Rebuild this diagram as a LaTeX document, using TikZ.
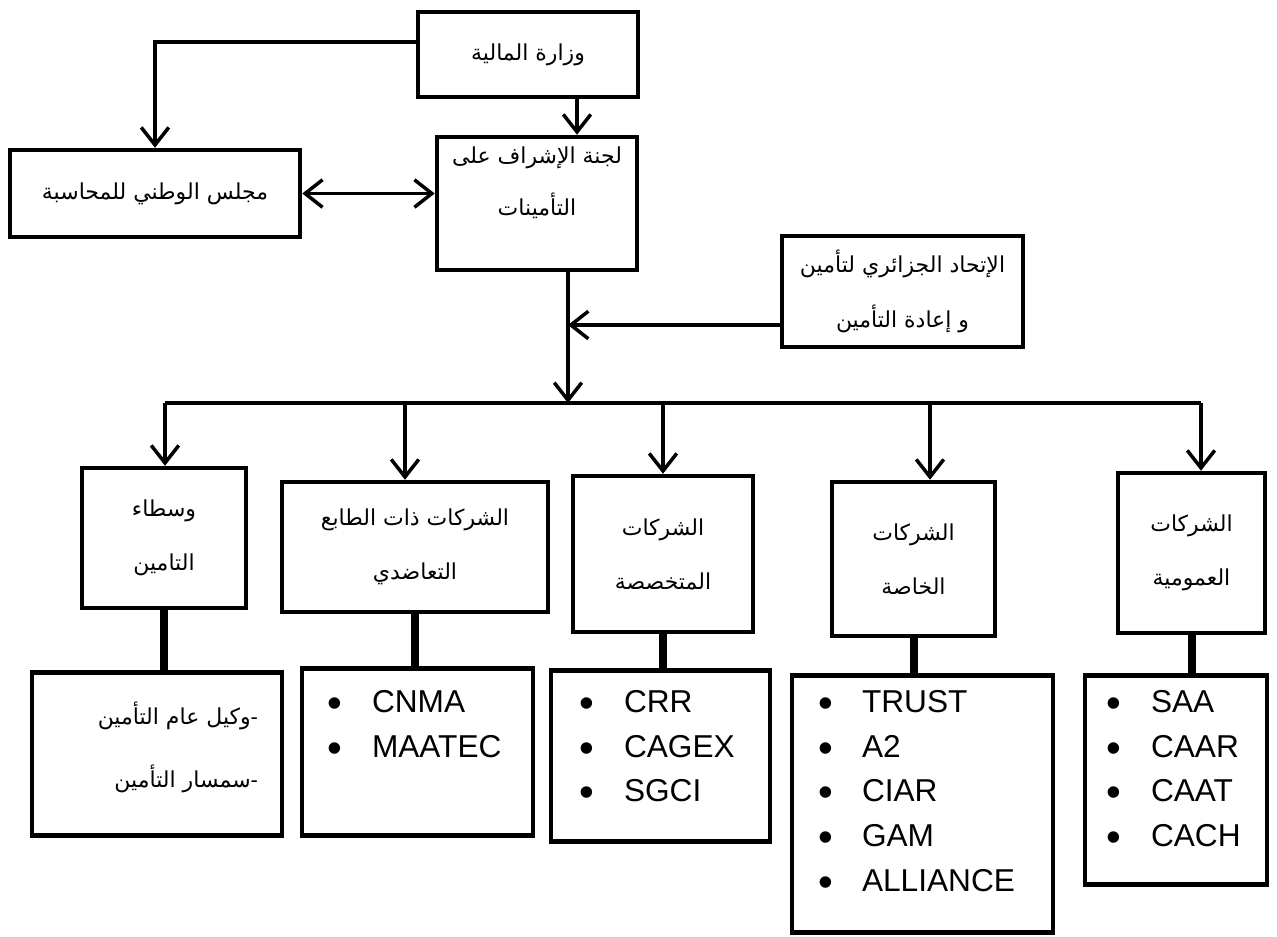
\documentclass[tikz,border=0pt]{standalone}
\usepackage{fontspec}
\setmainfont{Liberation Sans}
\newfontfamily\arabicfont[Script=Arabic]{DejaVu Sans}
\TeXXeTstate=1
\usetikzlibrary{arrows.meta}
\newcommand{\artxt}[1]{{\arabicfont\beginR #1\endR}}
\newcommand{\itm}{\raisebox{-0.3ex}{\fontsize{24}{24}\selectfont\textbullet}}

\begin{document}
\begin{tikzpicture}[x=0.2mm,y=-0.2mm,>={Straight Barb[length=3.5mm,width=5.5mm]},line width=0.7mm,
  box/.style={draw,rectangle,line width=0.9mm,align=center,inner sep=0pt,font=\fontsize{12.5}{15}\selectfont\arabicfont},
  listbox/.style={draw,rectangle,line width=0.9mm,anchor=north,inner sep=0pt,font=\fontsize{18}{25.5}\selectfont},
  link/.style={line width=1.6mm}]
\useasboundingbox (0,0) rectangle (1277,936);
% upper part
\node[box,minimum width=44mm,minimum height=17mm] (q_1) at (528,54.5) {\artxt{وزارة المالية}};
\node[box,minimum width=40mm,minimum height=26.6mm,text depth=9mm] (q_2) at (537,203.5) {\artxt{لجنة الإشراف على}\\[4.5mm]\artxt{التأمينات}};
\node[box,minimum width=58mm,minimum height=17.4mm] (q_3) at (155,193.5) {\artxt{مجلس الوطني للمحاسبة}};
\node[box,minimum width=48.2mm,minimum height=22.2mm] (q_4) at (902.5,291.5) {\artxt{الإتحاد الجزائري لتأمين}\\[5mm]\artxt{و إعادة التأمين}};
% second row
\node[box,minimum width=32.8mm,minimum height=28mm] (s_1) at (164,538) {\artxt{وسطاء}\\[5.5mm]\artxt{التامين}};
\node[box,minimum width=53.2mm,minimum height=26mm] (s_2) at (415,547) {\artxt{الشركات ذات الطابع}\\[5.5mm]\artxt{التعاضدي}};
\node[box,minimum width=36mm,minimum height=31.2mm] (s_3) at (663,554) {\artxt{الشركات}\\[5.5mm]\artxt{المتخصصة}};
\node[box,minimum width=32.6mm,minimum height=30.8mm] (s_4) at (913.5,559) {\artxt{الشركات}\\[5.5mm]\artxt{الخاصة}};
\node[box,minimum width=29.4mm,minimum height=32mm] (s_5) at (1191.5,553) {\artxt{الشركات}\\[5.5mm]\artxt{العمومية}};
% lists
\node[listbox,font=\fontsize{12.5}{15}\selectfont,text height=10.4mm,text depth=22.2mm] (l_1) at (157,670)
  {\makebox[50mm][r]{\begin{tabular}[t]{@{}r@{}}\artxt{وكيل عام التأمين}-\\[6.5mm]\artxt{سمسار التأمين}-\end{tabular}\hspace{4.8mm}}};
\node[listbox,text height=8.8mm,text depth=24.6mm] (l_2) at (417.5,666)
  {\makebox[46.2mm][l]{\begin{tabular}[t]{@{\hspace{5mm}}p{9mm}@{}l}\itm & CNMA\\ \itm & MAATEC\end{tabular}}};
\node[listbox,text height=8.4mm,text depth=25.8mm] (l_3) at (660.5,668)
  {\makebox[43.8mm][l]{\begin{tabular}[t]{@{\hspace{5.6mm}}p{9mm}@{}l}\itm & CRR\\ \itm & CAGEX\\ \itm & SGCI\end{tabular}}};
\node[listbox,text height=7.4mm,text depth=44mm] (l_4) at (922.5,673)
  {\makebox[52.2mm][l]{\begin{tabular}[t]{@{\hspace{5.2mm}}p{8.8mm}@{}l}\itm & TRUST\\ \itm & A2\\ \itm & CIAR\\ \itm & GAM\\ \itm & ALLIANCE\end{tabular}}};
\node[listbox,text height=7.4mm,text depth=34.4mm] (l_5) at (1176,673)
  {\makebox[36.4mm][l]{\begin{tabular}[t]{@{\hspace{4.2mm}}p{9mm}@{}l}\itm & SAA\\ \itm & CAAR\\ \itm & CAAT\\ \itm & CACH\end{tabular}}};
% connectors
\coordinate (a_1) at (577,0);
\coordinate (a_2) at (568,403);
\coordinate (d_1) at (165,403);
\coordinate (d_2) at (405,403);
\coordinate (d_3) at (663,403);
\coordinate (d_4) at (930,403);
\coordinate (d_5) at (1201,403);
\draw[->] ([yshift=2.5mm]q_1.west) -| (q_3.north);
\draw[->] (q_1.south -| a_1) -- (q_2.north -| a_1);
\draw[<->] (q_3.east) -- (q_3.east -| q_2.west);
\draw[->] (q_2.south -| a_2) -- (a_2);
\draw[->] ([yshift=-6.7mm]q_4.west) -- ([yshift=-6.7mm]q_4.west -| a_2);
\draw (d_1) -- (d_5);
\foreach \i in {1,...,5}{
  \draw[->] (d_\i) -- (d_\i |- s_\i.north);
  \draw[link] (s_\i.south) -- (s_\i.south |- l_\i.north);
}
\end{tikzpicture}
\end{document}
